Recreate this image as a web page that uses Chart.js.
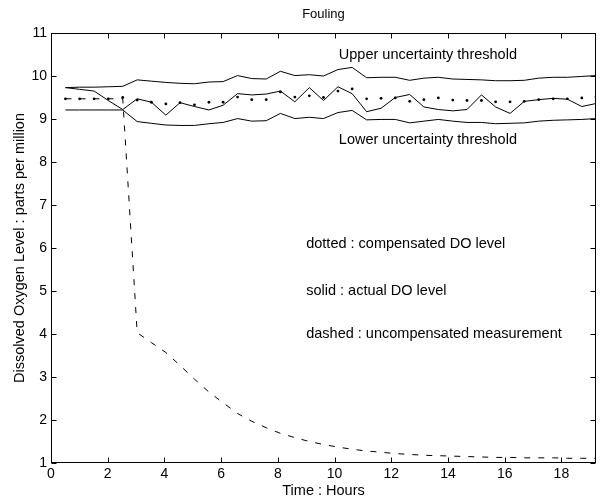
<!DOCTYPE html>
<html>
<head>
<meta charset="utf-8">
<script src="https://cdn.jsdelivr.net/npm/chart.js@4/dist/chart.umd.min.js"></script>
<style>
html,body{margin:0;padding:0;background:#fff;}
#wrap{width:605px;height:499px;position:relative;}
</style>
</head>
<body>
<div id="wrap"><canvas id="c" width="605" height="499"></canvas></div>
<script>
// ---- data ----
const hours = [0.51,1.01,1.52,2.02,2.53,3.04,3.54,4.05,4.55,5.06,5.57,6.07,6.58,7.08,7.59,8.09,8.60,9.11,9.61,10.12,
               10.62,11.13,11.64,12.14,12.65,13.15,13.66,14.17,14.67,15.18,15.68,16.19,16.69,17.20,17.71,18.21,18.72,19.22];
const upperThreshold = [9.73,9.74,9.74,9.75,9.76,9.91,9.88,9.85,9.83,9.82,9.86,9.87,10.01,9.94,9.93,10.11,10.01,10.03,10.00,10.15,
                        10.20,9.96,9.97,9.97,9.90,9.95,9.97,9.93,9.92,9.91,9.89,9.89,9.90,9.95,9.97,9.97,9.99,10.01];
const lowerThreshold = [9.21,9.21,9.21,9.21,9.21,8.94,8.90,8.86,8.85,8.85,8.89,8.92,9.01,8.95,8.96,9.13,9.01,9.04,9.01,9.15,
                        9.20,8.98,8.99,8.99,8.91,8.95,8.99,8.95,8.92,8.92,8.89,8.90,8.91,8.95,8.97,8.98,8.99,9.01];
const actualDO = [9.73,9.69,9.65,9.43,9.22,9.47,9.39,9.09,9.38,9.29,9.21,9.32,9.59,9.56,9.58,9.65,9.40,9.73,9.43,9.75,
                  9.59,9.17,9.25,9.50,9.57,9.28,9.22,9.19,9.22,9.56,9.28,9.13,9.41,9.45,9.48,9.46,9.29,9.36];
const compensatedDO = [9.47,9.47,9.47,9.47,9.50,9.44,9.39,9.35,9.38,9.33,9.39,9.39,9.51,9.45,9.45,9.63,9.51,9.54,9.50,9.65,
                       9.70,9.47,9.48,9.49,9.41,9.45,9.49,9.44,9.43,9.43,9.40,9.40,9.41,9.45,9.47,9.47,9.49,9.51];
const uncompensatedDO = [9.47,9.47,9.47,9.47,9.47,4.03,3.80,3.57,3.27,2.95,2.65,2.40,2.15,1.97,1.82,1.69,1.59,1.50,1.43,1.37,
                         1.32,1.28,1.25,1.22,1.20,1.18,1.17,1.16,1.15,1.14,1.13,1.13,1.12,1.12,1.12,1.11,1.11,1.11];
const xTicks = [0,2,4,6,8,10,12,14,16,18];
const yTicks = [1,2,3,4,5,6,7,8,9,10,11];
const xRange = [0, 19.22];
const yRange = [1, 11];
const titleText = 'Fouling';
const xTitle = 'Time : Hours';
const yTitle = 'Dissolved Oxygen Level : parts per million';
const notes = [
  {text:'Upper uncertainty threshold', x:10.15, y:10.48},
  {text:'Lower uncertainty threshold', x:10.15, y:8.51},
  {text:'dotted : compensated DO level', x:9.0, y:6.1},
  {text:'solid : actual DO level', x:9.0, y:5.0},
  {text:'dashed : uncompensated measurement', x:9.0, y:4.0}
];
// ---------------------------------------

const FONT = '"Liberation Sans", Arial, Helvetica, sans-serif';
const pts = arr => hours.map((h,i)=>({x:h, y:arr[i]}));

const framePlugin = {
  id:'frame',
  afterDatasetsDraw(chart){
    const {ctx, chartArea:a, scales:{x,y}} = chart;
    ctx.save();
    ctx.strokeStyle='#000';
    ctx.lineWidth=1;
    const L=Math.round(a.left)+0.5, R=Math.round(a.right)-0.5, T=Math.round(a.top)+0.5, B=Math.round(a.bottom)-0.5;
    ctx.strokeRect(L, T, R-L, B-T);
    const tl=5;
    ctx.beginPath();
    xTicks.forEach(v=>{
      const p=Math.round(x.getPixelForValue(v))+0.5;
      ctx.moveTo(p,B); ctx.lineTo(p,B-tl);
      ctx.moveTo(p,T); ctx.lineTo(p,T+tl);
    });
    yTicks.forEach(v=>{
      const p=Math.round(y.getPixelForValue(v))+0.5;
      ctx.moveTo(L,p); ctx.lineTo(L+tl,p);
      ctx.moveTo(R,p); ctx.lineTo(R-tl,p);
    });
    ctx.stroke();
    // texts
    ctx.fillStyle='#000';
    ctx.font='14.5px '+FONT;
    ctx.textBaseline='middle';
    ctx.textAlign='left';
    notes.forEach(n=>{
      ctx.fillText(n.text, x.getPixelForValue(n.x), y.getPixelForValue(n.y));
    });
    ctx.textAlign='center';
    ctx.fillText(xTitle, (a.left+a.right)/2, 491);
    ctx.save();
    ctx.translate(20,(a.top+a.bottom)/2);
    ctx.rotate(-Math.PI/2);
    ctx.fillText(yTitle, 0, 0);
    ctx.restore();
    ctx.font='13px '+FONT;
    ctx.fillText(titleText, (a.left+a.right)/2, 14);
    ctx.restore();
  }
};

const lineDs = (label, arr, extra) => Object.assign({
  label, data: pts(arr), borderColor:'#000', backgroundColor:'#000',
  borderWidth:1, pointRadius:0, tension:0, fill:false
}, extra||{});

new Chart(document.getElementById('c'), {
  type:'line',
  data:{
    datasets:[
      lineDs('Upper uncertainty threshold', upperThreshold),
      lineDs('Lower uncertainty threshold', lowerThreshold),
      lineDs('actual DO level', actualDO),
      lineDs('uncompensated measurement', uncompensatedDO, {borderDash:[6,8]}),
      lineDs('compensated DO level', compensatedDO, {showLine:false, pointRadius:1.4, pointBorderWidth:0, pointBackgroundColor:'#000'})
    ]
  },
  options:{
    responsive:false,
    animation:false,
    devicePixelRatio:1,
    layout:{padding:{left:0,right:9,top:33,bottom:0}},
    plugins:{legend:{display:false}, tooltip:{enabled:false}, title:{display:false}},
    scales:{
      x:{
        type:'linear', min:xRange[0], max:xRange[1],
        grid:{display:false, drawTicks:false}, border:{display:false},
        afterFit(s){ s.height = 36; },
        afterBuildTicks(s){ s.ticks = xTicks.map(v=>({value:v})); },
        ticks:{color:'#000', font:{family:FONT, size:14}, padding:3, maxRotation:0, autoSkip:false}
      },
      y:{
        type:'linear', min:yRange[0], max:yRange[1],
        grid:{display:false, drawTicks:false}, border:{display:false},
        afterFit(s){ s.width = 51; },
        afterBuildTicks(s){ s.ticks = yTicks.map(v=>({value:v})); },
        ticks:{color:'#000', font:{family:FONT, size:14}, padding:4, autoSkip:false}
      }
    }
  },
  plugins:[framePlugin]
});
</script>
</body>
</html>
